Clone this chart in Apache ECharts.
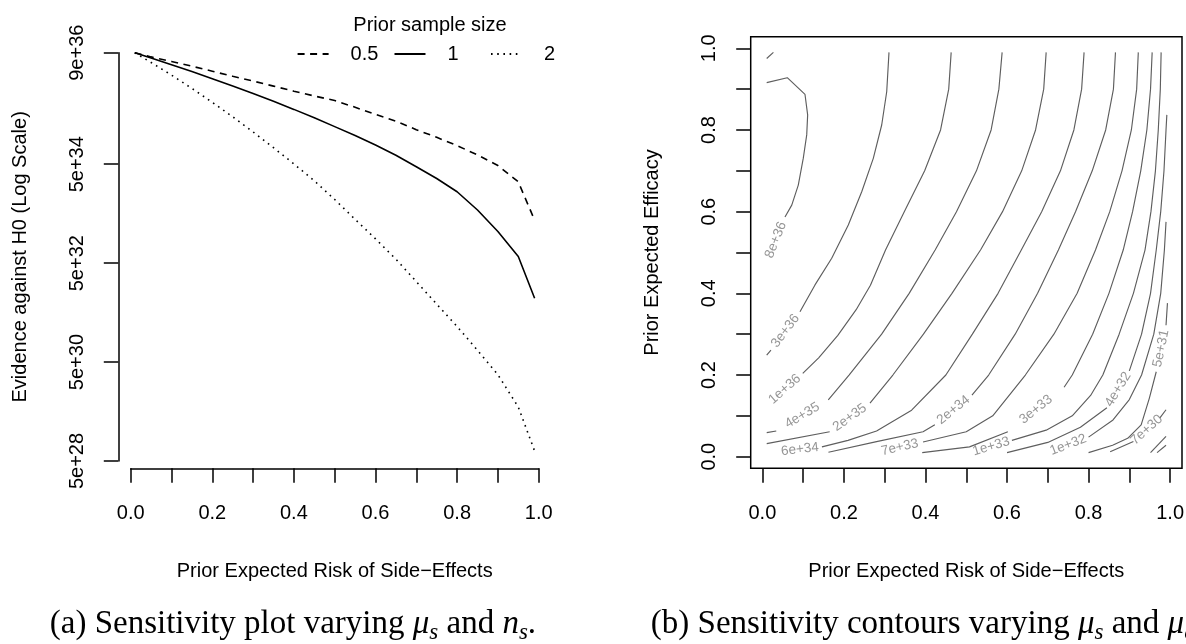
<!DOCTYPE html>
<html>
<head>
<meta charset="utf-8">
<script src="https://cdn.jsdelivr.net/npm/echarts@6/dist/echarts.min.js"></script>
<style>html,body{margin:0;padding:0;background:#fff}#chart{width:1186px;height:644px}</style>
</head>
<body>
<div id="chart"></div>
<script>
// ---------------- Panel (a): sensitivity curves ----------------
const riskX = [0.01,0.05,0.10,0.15,0.20,0.25,0.30,0.35,0.40,0.45,0.50,0.55,0.60,0.65,0.70,0.75,0.80,0.85,0.90,0.95,0.99];
const evidenceN05 = [9.0e36,7.4e36,6.0e36,4.8e36,3.8e36,3.0e36,2.4e36,1.9e36,1.5e36,1.2e36,9.7e35,7.1e35,5.1e35,3.7e35,2.5e35,1.75e35,1.19e35,7.7e34,4.7e34,2.2e34,3.7e33];
const evidenceN1  = [9.0e36,7.06e36,5.16e36,3.75e36,2.69e36,1.91e36,1.35e36,9.35e35,6.43e35,4.35e35,2.88e35,1.90e35,1.22e35,7.59e34,4.46e34,2.58e34,1.39e34,5.94e33,2.18e33,6.82e32,9.73e31];
const evidenceN2  = [9.0e36,5.70e36,3.17e36,1.71e36,8.93e35,4.55e35,2.25e35,1.08e35,5.08e34,2.31e34,9.68e33,3.85e33,1.55e33,6.01e32,2.12e32,7.43e31,2.62e31,8.65e30,2.78e30,6.18e29,7.96e28];
const sampleSizeNames = ['0.5','1','2'];
const evidenceTicks = [5e28,5e30,5e32,5e34,9e36];

// ---------------- Panel (b): contour lines (x = risk, y = efficacy); null = label gap ----------------
const contourTop   = [[0.0105,0.975],[0.027,0.99]];
const contour8e36  = [[0.0105,0.474],null,[0.0554,0.587],[0.072,0.616],[0.088,0.665],[0.1003,0.731],[0.1087,0.788],[0.111,0.837],[0.1045,0.887],[0.061,0.928],[0.0105,0.916]];
const contour3e36  = [[0.0105,0.249],[0.021,0.261],null,[0.0922,0.355],[0.129,0.4206],[0.17,0.4858],[0.2107,0.5673],[0.2436,0.6489],[0.272,0.7306],[0.2926,0.8122],[0.3049,0.8937],[0.3105,0.99]];
const contour1e36  = [[0.0106,0.127],null,[0.099,0.204],[0.138,0.242],[0.185,0.297],[0.23,0.36],[0.265,0.42],[0.302,0.506],[0.348,0.6],[0.398,0.7],[0.437,0.8],[0.457,0.9],[0.463,0.99]];
const contour4e35  = [[0.0106,0.059],[0.034,0.063],null,[0.1616,0.139],[0.2125,0.2],[0.2925,0.3],[0.36,0.4],[0.4237,0.506],[0.476,0.6],[0.525,0.7],[0.561,0.8],[0.58,0.9],[0.588,0.99]];
const contour2e35  = [[0.0106,0.032],[0.165,0.061],null,[0.2639,0.131],[0.32,0.2],[0.395,0.3],[0.465,0.4],[0.535,0.506],[0.589,0.6],[0.636,0.7],[0.67,0.8],[0.69,0.9],[0.696,0.99]];
const contour6e34  = [[0.038,0.012],null,[0.146,0.024],[0.21,0.04],[0.28,0.063],[0.366,0.114],[0.45,0.2],[0.515,0.3],[0.578,0.4],[0.635,0.506],[0.685,0.6],[0.731,0.7],[0.764,0.8],[0.783,0.9],[0.789,0.99]];
const contour2e34  = [[0.162,0.011],[0.28,0.037],[0.394,0.061],[0.423,0.078],null,[0.514,0.151],[0.555,0.2],[0.62,0.3],[0.675,0.4],[0.726,0.506],[0.768,0.6],[0.809,0.7],[0.842,0.8],[0.861,0.9],[0.866,0.99]];
const contour7e33  = [[0.28,0.01],null,[0.394,0.036],[0.5,0.061],[0.565,0.1],[0.645,0.2],[0.715,0.3],[0.772,0.4],[0.817,0.506],[0.852,0.6],[0.882,0.7],[0.905,0.8],[0.918,0.9],[0.922,0.99]];
const contour3e33  = [[0.392,0.01],[0.508,0.024],[0.602,0.061],null,[0.74,0.17],[0.76,0.2],[0.81,0.3],[0.85,0.4],[0.885,0.506],[0.908,0.6],[0.928,0.7],[0.943,0.8],[0.952,0.9],[0.956,0.99]];
const contour1e33  = [[0.51,0.01],null,[0.612,0.04],[0.696,0.065],[0.76,0.1],[0.805,0.15],[0.835,0.2],[0.875,0.3],[0.91,0.4],[0.9384,0.506],[0.953,0.6],[0.964,0.7],[0.971,0.8],[0.976,0.9],[0.978,0.99]];
const contour4e32  = [[0.6,0.01],[0.7,0.035],[0.78,0.072],[0.845,0.12],null,[0.9,0.21],[0.93,0.3],[0.952,0.4],[0.966,0.506],[0.977,0.6],[0.985,0.7],[0.99,0.8],[0.992,0.837]];
const contour1e32  = [[0.70,0.01],null,[0.80,0.048],[0.86,0.09],[0.9,0.14],[0.93,0.2],[0.96,0.3],[0.977,0.4],[0.986,0.506],[0.99,0.575]];
const contour5e31  = [[0.80,0.01],[0.859,0.028],[0.896,0.045],[0.929,0.078],[0.949,0.143],[0.966,0.208],null,[0.99,0.322],[0.9935,0.376]];
const contour7e30  = [[0.853,0.012],[0.91,0.037],null,[0.975,0.095],[0.99,0.115]];
const contourLowA  = [[0.952,0.01],[0.99,0.05]];
const contourLowB  = [[0.968,0.01],[0.99,0.028]];
const contourLines  = [contourTop,contour8e36,contour3e36,contour1e36,contour4e35,contour2e35,contour6e34,contour2e34,contour7e33,contour3e33,contour1e33,contour4e32,contour1e32,contour5e31,contour7e30,contourLowA,contourLowB];
const contourLabels = ['', '8e+36','3e+36','1e+36','4e+35','2e+35','6e+34','2e+34','7e+33','3e+33','1e+33','4e+32','1e+32','5e+31','7e+30','',''];

// ---------------- styling ----------------
const FONT = '"Liberation Sans", Arial, Helvetica, sans-serif';
const SERIF = '"Liberation Serif", "Times New Roman", serif';
const axisText = {fontSize: 20, color: '#000', fontFamily: FONT};
const blackLine = {color: '#000', width: 1.5};
const CONTOUR_COLOR = '#5e5e5e';
const LABEL_COLOR = '#7a7a7a';

function evenLabel(v) {
  const k = Math.round(v * 10);
  return k % 2 === 0 ? (k / 10).toFixed(1) : '';
}
function expLabel(v) {
  const e = Math.floor(Math.log10(v) + 1e-9);
  const m = Math.round(v / Math.pow(10, e));
  return m + 'e+' + e;
}
function toSeriesData(pts) {
  return pts.map(p => p === null ? ['-', '-'] : p);
}

const chart = echarts.init(document.getElementById('chart'), null, {renderer: 'canvas', width: 1186, height: 644});

const lineTypes = [[7, 5.5], 'solid', [1.6, 4.6]];
const curveSeries = [evidenceN05, evidenceN1, evidenceN2].map((vals, i) => ({
  type: 'line', name: sampleSizeNames[i], xAxisIndex: 0, yAxisIndex: 0,
  data: riskX.map((x, j) => [x, vals[j]]),
  symbol: 'none', showSymbol: false, silent: true, z: 3,
  lineStyle: {color: '#000', width: 1.6, type: lineTypes[i]},
  itemStyle: {color: '#000'}
}));

const contourSeries = contourLines.map((pts, i) => ({
  type: 'line', name: 'contour ' + (contourLabels[i] || i), xAxisIndex: 1, yAxisIndex: 1,
  data: toSeriesData(pts), connectNulls: false,
  symbol: 'none', showSymbol: false, silent: true,
  lineStyle: {color: CONTOUR_COLOR, width: 1.15}
}));

const legendX = [296.6, 393.5, 490];
const legends = sampleSizeNames.map((n, i) => ({
  data: [n], left: legendX[i], top: 44, padding: 0, orient: 'horizontal',
  itemWidth: 31, itemHeight: 14, selectedMode: false,
  itemStyle: {opacity: 0},
  textStyle: {fontSize: 20, color: '#000', fontFamily: FONT, padding: [0, 0, 0, 17]}
}));

const option = {
  animation: false,
  backgroundColor: '#fff',
  grid: [
    {left: 130.7, top: 52.7, width: 408, height: 408.3, containLabel: false, outerBoundsMode: 'none'},
    {left: 762.4, top: 48.3, width: 407.7, height: 408.4, containLabel: false, outerBoundsMode: 'none'},
    {left: 750.7, top: 36.7, width: 431.3, height: 431.6, show: true, borderColor: '#000', borderWidth: 1.5,
     backgroundColor: 'transparent', containLabel: false, outerBoundsMode: 'none'}
  ],
  xAxis: [
    {gridIndex: 0, type: 'value', min: 0, max: 1, interval: 0.1, offset: 7.3,
     axisLine: {show: true, onZero: false, lineStyle: blackLine},
     axisTick: {show: true, length: 14.5, inside: false, lineStyle: blackLine},
     axisLabel: Object.assign({show: true, margin: 35, formatter: evenLabel, hideOverlap: false}, axisText),
     splitLine: {show: false},
     name: 'Prior Expected Risk of Side\u2212Effects', nameLocation: 'middle', nameGap: 93.4, nameTextStyle: axisText},
    {gridIndex: 1, type: 'value', min: 0, max: 1, interval: 0.1, offset: 11.6,
     axisLine: {show: false, onZero: false},
     axisTick: {show: true, length: 14.5, inside: false, lineStyle: blackLine},
     axisLabel: Object.assign({show: true, margin: 35, formatter: evenLabel, hideOverlap: false}, axisText),
     splitLine: {show: false},
     name: 'Prior Expected Risk of Side\u2212Effects', nameLocation: 'middle', nameGap: 93.4, nameTextStyle: axisText}
  ],
  yAxis: [
    {gridIndex: 0, type: 'log', logBase: 10, min: 5e28, max: 9e36, offset: 12.4,
     axisLine: {show: true, onZero: false, lineStyle: blackLine},
     axisTick: {show: true, length: 14.5, inside: false, lineStyle: blackLine, customValues: evidenceTicks},
     axisLabel: Object.assign({show: true, rotate: 90, margin: 30.8, customValues: evidenceTicks, formatter: expLabel, hideOverlap: false}, axisText),
     splitLine: {show: false}, minorTick: {show: false},
     name: 'Evidence against H0 (Log Scale)', nameLocation: 'middle', nameGap: 88.3, nameTextStyle: axisText},
    {gridIndex: 1, type: 'value', min: 0, max: 1, interval: 0.1, offset: 11.7,
     axisLine: {show: false, onZero: false},
     axisTick: {show: true, length: 14.5, inside: false, lineStyle: blackLine},
     axisLabel: Object.assign({show: true, rotate: 90, margin: 30.8, formatter: evenLabel, hideOverlap: false}, axisText),
     splitLine: {show: false},
     name: 'Prior Expected Efficacy', nameLocation: 'middle', nameGap: 88.3, nameTextStyle: axisText}
  ],
  legend: legends,
  graphic: [
    {type: 'text', x: 430, y: 25, silent: true,
     style: {text: 'Prior sample size', fill: '#000', fontSize: 20, fontFamily: FONT, align: 'center', verticalAlign: 'middle'}},
    {type: 'text', x: 49.8, y: 624, silent: true,
     style: {text: '(a) Sensitivity plot varying {m|\u03BC}{s|s} and {m|n}{s|s}.', fill: '#000',
       fontSize: 33, fontFamily: SERIF, lineHeight: 40, align: 'left', verticalAlign: 'middle',
       rich: {m: {fontSize: 33, fontStyle: 'italic', fontFamily: SERIF, lineHeight: 40},
              s: {fontSize: 23, fontStyle: 'italic', fontFamily: SERIF, lineHeight: 26, verticalAlign: 'bottom'}}}},
    {type: 'text', x: 650.8, y: 624, silent: true,
     style: {text: '(b) Sensitivity contours varying {m|\u03BC}{s|s} and {m|\u03BC}{s|e}.', fill: '#000',
       fontSize: 33, fontFamily: SERIF, lineHeight: 40, align: 'left', verticalAlign: 'middle',
       rich: {m: {fontSize: 33, fontStyle: 'italic', fontFamily: SERIF, lineHeight: 40},
              s: {fontSize: 23, fontStyle: 'italic', fontFamily: SERIF, lineHeight: 26, verticalAlign: 'bottom'}}}}
  ],
  series: curveSeries.concat(contourSeries).concat([
    {type: 'scatter', id: 'contourLabels', xAxisIndex: 1, yAxisIndex: 1, data: [], symbolSize: 1,
     itemStyle: {color: 'rgba(0,0,0,0)'}, silent: true, z: 5,
     label: {show: true, position: 'inside', color: LABEL_COLOR, fontSize: 13.5, fontFamily: FONT}}
  ])
};
chart.setOption(option);

// place contour labels in the gaps, rotated along the line
const firstContourSeries = curveSeries.length;
const labelData = [];
contourLines.forEach((pts, i) => {
  const k = pts.indexOf(null);
  if (k < 0 || !contourLabels[i]) return;
  const a = pts[k - 1], b = pts[k + 1];
  const pa = chart.convertToPixel({seriesIndex: firstContourSeries + i}, a);
  const pb = chart.convertToPixel({seriesIndex: firstContourSeries + i}, b);
  let ang = Math.atan2(-(pb[1] - pa[1]), pb[0] - pa[0]) * 180 / Math.PI;
  if (ang > 90) ang -= 180;
  if (ang <= -90) ang += 180;
  labelData.push({value: [(a[0] + b[0]) / 2, (a[1] + b[1]) / 2], name: contourLabels[i],
    label: {show: true, rotate: ang, formatter: contourLabels[i]}});
});
chart.setOption({series: [{id: 'contourLabels', data: labelData}]});
</script>
</body>
</html>
